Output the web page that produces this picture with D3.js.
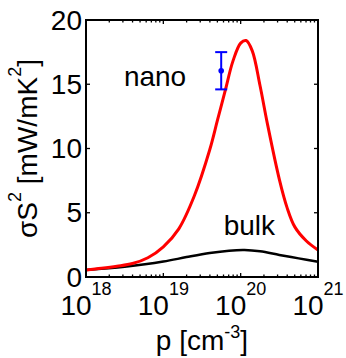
<!DOCTYPE html>
<html><head><meta charset="utf-8">
<script src="https://cdn.jsdelivr.net/npm/d3@7"></script>
<style>body{margin:0;background:#fff}svg{display:block}text{font-family:"Liberation Sans",Arial,sans-serif;fill:#000}</style>
</head><body><svg id="c" width="346" height="358"></svg>
<script>
// log10(p) sample points and values
const nanoLogP = [18.0, 18.2, 18.4, 18.6, 18.8, 19.0, 19.2, 19.4, 19.6, 19.7, 19.8, 19.9, 20.0, 20.07, 20.15, 20.25, 20.35, 20.5, 20.6, 20.7, 20.85, 21.0];
const nanoVals = [0.55, 0.68, 0.84, 1.05, 1.5, 2.35, 3.75, 6.3, 9.9, 12.2, 14.5, 16.8, 18.2, 18.4, 17.6, 14.9, 11.8, 7.6, 5.4, 3.9, 2.8, 2.1];
const bulkLogP = [18.0, 18.5, 19.0, 19.3, 19.6, 19.85, 20.05, 20.25, 20.5, 20.75, 21.0];
const bulkVals = [0.55, 0.8, 1.2, 1.55, 1.87, 2.05, 2.1, 2.0, 1.72, 1.45, 1.18];
const errP = [5.6e19], errMid = [16.05], errLo = [14.6], errHi = [17.5];
const xTickExps = [18, 19, 20, 21];
const yTicks = [0, 5, 10, 15, 20];
const labels = [{text: "nano", logp: 18.49, v: 14.9}, {text: "bulk", logp: 19.78, v: 3.25}];

const W = 346, H = 358, m = {l: 86, t: 20, r: 28, b: 81};
const svg = d3.select("#c");
const x = d3.scaleLog().domain([1e18, 1e21]).range([m.l, W - m.r]);
const y = d3.scaleLinear().domain([0, 20]).range([H - m.b, m.t]);
const FS = 28, SFS = 18;

// ticks: major + minor log
const minor = [];
for (let e = 18; e < 21; e++) for (let k = 2; k <= 9; k++) minor.push(k * Math.pow(10, e));
const g = svg.append("g");
function tickLines(vals, len, axis) {
  vals.forEach(v => {
    if (axis === "x") {
      const px = x(v);
      g.append("line").attr("x1", px).attr("x2", px).attr("y1", y(0)).attr("y2", y(0) - len).attr("stroke", "#000").attr("stroke-width", 1.3);
      g.append("line").attr("x1", px).attr("x2", px).attr("y1", y(20)).attr("y2", y(20) + len).attr("stroke", "#000").attr("stroke-width", 1.3);
    } else {
      const py = y(v);
      g.append("line").attr("y1", py).attr("y2", py).attr("x1", x(1e18)).attr("x2", x(1e18) + len).attr("stroke", "#000").attr("stroke-width", 1.3);
      g.append("line").attr("y1", py).attr("y2", py).attr("x1", x(1e21)).attr("x2", x(1e21) - len).attr("stroke", "#000").attr("stroke-width", 1.3);
    }
  });
}
tickLines(xTickExps.map(e => Math.pow(10, e)), 4, "x");
tickLines(minor, 2.5, "x");
tickLines(yTicks, 4, "y");

// y tick labels
yTicks.forEach(v => {
  svg.append("text").attr("x", m.l - 4).attr("y", y(v)).attr("dy", "0.34em")
    .attr("text-anchor", "end").attr("font-size", FS).text(v);
});
// x tick labels with superscripts
xTickExps.forEach(e => {
  const t = svg.append("text").attr("x", x(Math.pow(10, e))).attr("y", y(0) + 38)
    .attr("text-anchor", "middle").attr("font-size", FS);
  t.append("tspan").text("10");
  t.append("tspan").attr("font-size", SFS).attr("dy", -20).text(e);
});

// curves
const line = d3.line().x(d => x(Math.pow(10, d[0]))).y(d => y(d[1])).curve(d3.curveCatmullRom.alpha(0.5));
svg.append("path").attr("d", line(bulkLogP.map((p, i) => [p, bulkVals[i]])))
  .attr("fill", "none").attr("stroke", "#000").attr("stroke-width", 2.5);
svg.append("path").attr("d", line(nanoLogP.map((p, i) => [p, nanoVals[i]])))
  .attr("fill", "none").attr("stroke", "#ff0000").attr("stroke-width", 3);

// error bar
errP.forEach((p, i) => {
  const px = x(p);
  const eb = svg.append("g").attr("stroke", "#0000ff").attr("stroke-width", 2);
  eb.append("line").attr("x1", px).attr("x2", px).attr("y1", y(errLo[i])).attr("y2", y(errHi[i]));
  eb.append("line").attr("x1", px - 6).attr("x2", px + 6).attr("y1", y(errLo[i])).attr("y2", y(errLo[i]));
  eb.append("line").attr("x1", px - 6).attr("x2", px + 6).attr("y1", y(errHi[i])).attr("y2", y(errHi[i]));
  svg.append("circle").attr("cx", px).attr("cy", y(errMid[i])).attr("r", 2.8).attr("fill", "#0000ff");
});

// frame
svg.append("rect").attr("x", m.l).attr("y", m.t).attr("width", W - m.l - m.r).attr("height", H - m.t - m.b)
  .attr("fill", "none").attr("stroke", "#000").attr("stroke-width", 2);

// annotations
labels.forEach(l => svg.append("text").attr("x", x(Math.pow(10, l.logp))).attr("y", y(l.v))
  .attr("font-size", FS).text(l.text));

// axis labels
const xl = svg.append("text").attr("x", (m.l + W - m.r) / 2).attr("y", 350).attr("text-anchor", "middle").attr("font-size", FS);
xl.append("tspan").text("p [cm");
xl.append("tspan").attr("font-size", SFS).attr("dy", -12).text("-3");
xl.append("tspan").attr("dy", 12).text("]");

const yl = svg.append("text").attr("transform", `translate(37,${(m.t + H - m.b) / 2}) rotate(-90)`)
  .attr("text-anchor", "middle").attr("font-size", FS);
yl.append("tspan").text("σS");
yl.append("tspan").attr("font-size", SFS).attr("dy", -16).text("2");
yl.append("tspan").attr("dy", 16).text(" [mW/mK");
yl.append("tspan").attr("font-size", SFS).attr("dy", -16).text("2");
yl.append("tspan").attr("dy", 16).text("]");
</script></body></html>
